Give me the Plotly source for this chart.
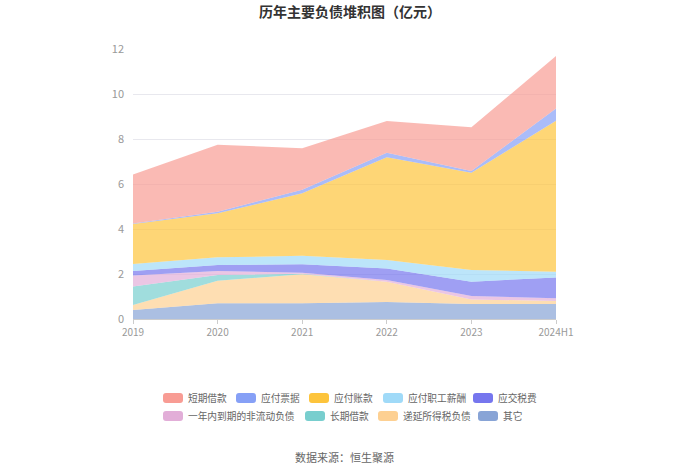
import plotly.graph_objects as go

years = ["2019", "2020", "2021", "2022", "2023", "2024H1"]

# 单位: 亿元, 从底到顶
qita = [0.40, 0.70, 0.70, 0.76, 0.67, 0.67]
diyan_shui = [0.22, 1.00, 1.29, 0.90, 0.20, 0.13]
changqi_jiekuan = [0.82, 0.26, 0.02, 0.00, 0.00, 0.00]
yinian_daoqi = [0.49, 0.17, 0.05, 0.07, 0.15, 0.12]
yingjiao_shuifei = [0.20, 0.27, 0.37, 0.52, 0.64, 0.93]
zhigong_xinchou = [0.31, 0.34, 0.38, 0.37, 0.52, 0.25]
yingfu_zhangkuan = [1.78, 1.96, 2.78, 4.57, 4.32, 6.71]
yingfu_piaoju = [0.02, 0.07, 0.15, 0.20, 0.08, 0.55]
duanqi_jiekuan = [2.18, 2.98, 1.85, 1.41, 1.94, 2.33]

# (名称, 数据, 颜色rgb)
series = [
    ("短期借款", duanqi_jiekuan, (248, 156, 148)),
    ("应付票据", yingfu_piaoju, (134, 160, 246)),
    ("应付账款", yingfu_zhangkuan, (253, 196, 60)),
    ("应付职工薪酬", zhigong_xinchou, (160, 218, 248)),
    ("应交税费", yingjiao_shuifei, (118, 118, 238)),
    ("一年内到期的非流动负债", yinian_daoqi, (226, 174, 216)),
    ("长期借款", changqi_jiekuan, (120, 206, 206)),
    ("递延所得税负债", diyan_shui, (253, 208, 146)),
    ("其它", qita, (136, 164, 214)),
]

# 图例色块左端/中线位置 (像素), 两行
legend_px = [(163, 398), (236, 398), (309, 398), (383, 398), (473, 398),
             (163, 416), (305, 416), (378, 416), (478, 416)]

L, R, T, B = 133, 144, 49, 155
W, H = 700, 474
pw, ph = W - L - R, H - T - B


def px_x(v):
    return (v - L) / pw


def px_y(v):
    return (H - B - v) / ph


def rgba(c, a):
    return f"rgba({c[0]},{c[1]},{c[2]},{a})"


fig = go.Figure()

# 堆叠从底部开始添加
for name, vals, color in reversed(series):
    fig.add_trace(go.Scatter(
        x=years, y=vals, name=name, mode="lines",
        line=dict(width=0, color=rgba(color, 0.7)),
        fill="tonexty", fillcolor=rgba(color, 0.7),
        stackgroup="one", hoverinfo="x+y+name", showlegend=False,
    ))

# 手绘图例: 圆角色块 + 文字
shapes, annotations = [], []
for (name, vals, color), (lx, ly) in zip(series, legend_px):
    x0, x1 = px_x(lx), px_x(lx + 20)
    y0, y1 = px_y(ly + 5), px_y(ly - 5)
    rx, ry = 3 / pw, 3 / ph
    path = (f"M{x0 + rx},{y0} H{x1 - rx} Q{x1},{y0} {x1},{y0 + ry} V{y1 - ry} "
            f"Q{x1},{y1} {x1 - rx},{y1} H{x0 + rx} Q{x0},{y1} {x0},{y1 - ry} "
            f"V{y0 + ry} Q{x0},{y0} {x0 + rx},{y0} Z")
    shapes.append(dict(type="path", path=path, xref="paper", yref="paper",
                       fillcolor=rgba(color, 1), line=dict(width=0)))
    annotations.append(dict(text=name, x=px_x(lx + 23), y=px_y(ly), xref="paper", yref="paper",
                            xanchor="left", yanchor="middle", showarrow=False,
                            font=dict(size=9.7, color="#666")))

annotations.append(dict(text="数据来源：恒生聚源", x=0.5, xref="paper", xanchor="center",
                        y=px_y(457), yref="paper", yanchor="middle", showarrow=False,
                        font=dict(size=11, color="#666")))

fig.update_layout(
    width=W, height=H,
    paper_bgcolor="white", plot_bgcolor="white",
    margin=dict(l=L, r=R, t=T, b=B),
    font=dict(family="Noto Sans CJK SC", color="#999"),
    title=dict(text="<b>历年主要负债堆积图（亿元）</b>", x=0.5, xanchor="center",
               y=0.985, yanchor="top", font=dict(size=14, color="#333")),
    showlegend=False,
    shapes=shapes,
    annotations=annotations,
)
fig.update_xaxes(type="category", range=[0, 5], showgrid=False,
                 showline=True, linecolor="#ccc", ticks="outside", tickcolor="#ccc",
                 ticklen=4, tickfont=dict(size=10, color="#999"))
fig.update_yaxes(range=[0, 12], dtick=2, showgrid=True, gridcolor="#e8e8ee",
                 zeroline=False, showline=False, ticks="", ticklabelstandoff=8,
                 tickfont=dict(size=11, color="#999"))

fig.write_html("out.html", config={"displayModeBar": False},
               post_script="document.body.style.margin='0px';")
